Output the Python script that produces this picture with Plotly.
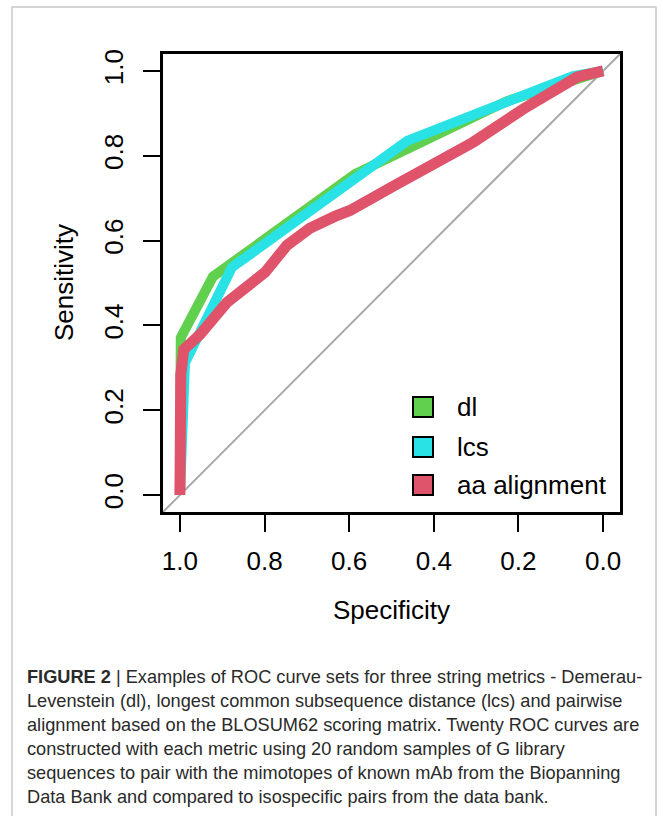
import plotly.graph_objects as go

# ---- data ----
dl_spec = [1.0, 1.0, 0.998, 0.922, 0.586, 0.227, 0.0]
dl_sens = [0.0, 0.30, 0.371, 0.515, 0.757, 0.929, 1.0]

lcs_spec = [1.0, 0.995, 0.988, 0.877, 0.586, 0.463, 0.071, 0.0]
lcs_sens = [0.0, 0.137, 0.312, 0.537, 0.745, 0.835, 0.988, 1.0]

aa_spec = [1.0, 0.998, 0.991, 0.953, 0.889, 0.842, 0.799, 0.747, 0.693, 0.634, 0.598, 0.496, 0.307, 0.189, 0.061, 0.0]
aa_sens = [0.0, 0.284, 0.343, 0.378, 0.454, 0.487, 0.525, 0.589, 0.629, 0.657, 0.671, 0.728, 0.832, 0.910, 0.986, 1.0]

series_names = ["dl", "lcs", "aa alignment"]
series_colors = ["#61D04F", "#28E2E5", "#DF536B"]

tick_vals = [1.0, 0.8, 0.6, 0.4, 0.2, 0.0]
tick_text = ["1.0", "0.8", "0.6", "0.4", "0.2", "0.0"]

x_range = [1.04, -0.04]
y_range = [-0.04, 1.04]

caption_lines = [
    "<b>FIGURE 2</b> | Examples of ROC curve sets for three string metrics - Demerau-",
    "Levenstein (dl), longest common subsequence distance (lcs) and pairwise",
    "alignment based on the BLOSUM62 scoring matrix. Twenty ROC curves are",
    "constructed with each metric using 20 random samples of G library",
    "sequences to pair with the mimotopes of known mAb from the Biopanning",
    "Data Bank and compared to isospecific pairs from the data bank.",
]

# ---- figure ----
W, H = 663, 816
L, R, T, B = 163, 43, 54, 304
pw, ph = W - L - R, H - T - B

def px(xp):
    return (xp - L) / pw

def py(yp):
    return (H - B - yp) / ph

fig = go.Figure()

# identity line
fig.add_trace(go.Scatter(x=x_range, y=[1 - v for v in x_range], mode="lines",
                         line=dict(color="#A9A9A9", width=2), showlegend=False, hoverinfo="skip"))

for xs, ys, name, col, w in [(dl_spec, dl_sens, series_names[0], series_colors[0], 10),
                             (lcs_spec, lcs_sens, series_names[1], series_colors[1], 10),
                             (aa_spec, aa_sens, series_names[2], series_colors[2], 11)]:
    fig.add_trace(go.Scatter(x=xs, y=ys, mode="lines", name=name,
                             line=dict(color=col, width=w), showlegend=False))

font_main = "Liberation Sans, Arial, sans-serif"

axis_common = dict(showgrid=False, zeroline=False, showline=True, linecolor="black",
                   linewidth=3, mirror=True, ticks="outside", ticklen=17, tickwidth=2,
                   tickcolor="black", tickvals=tick_vals, ticktext=tick_text,
                   tickfont=dict(family=font_main, size=26, color="black"))

fig.update_xaxes(range=x_range, ticklabelstandoff=7, **axis_common)
fig.update_yaxes(range=y_range, tickangle=-90, ticklabelstandoff=10, **axis_common)

annotations = []
shapes = []

# axis titles
annotations.append(dict(text="Specificity", x=0.5, y=py(610), xref="paper", yref="paper",
                        showarrow=False, font=dict(family=font_main, size=26, color="black"),
                        xanchor="center", yanchor="middle"))
annotations.append(dict(text="Sensitivity", x=px(64), y=0.5, xref="paper", yref="paper",
                        showarrow=False, textangle=-90,
                        font=dict(family=font_main, size=26, color="black"),
                        xanchor="center", yanchor="middle"))

# legend
leg_y = [407, 447, 485]
for name, col, yc in zip(series_names, series_colors, leg_y):
    shapes.append(dict(type="rect", xref="paper", yref="paper",
                       x0=px(413), x1=px(433), y0=py(yc + 10), y1=py(yc - 10),
                       fillcolor=col, line=dict(color="black", width=2)))
    annotations.append(dict(text=name, x=px(455), y=py(yc), xref="paper", yref="paper",
                            showarrow=False, xanchor="left", yanchor="middle",
                            font=dict(family=font_main, size=26, color="black")))

# outer frame
shapes.append(dict(type="rect", xref="paper", yref="paper",
                   x0=px(12), x1=px(656), y0=py(830), y1=py(7),
                   line=dict(color="#C8C8C8", width=1.5), fillcolor="rgba(0,0,0,0)"))

# caption
cap_y0, cap_dy = 677, 24
for i, line in enumerate(caption_lines):
    annotations.append(dict(text=line, x=px(25), y=py(cap_y0 + i * cap_dy), xref="paper", yref="paper",
                            showarrow=False, xanchor="left", yanchor="middle",
                            font=dict(family="Liberation Sans Narrow, Arial Narrow, sans-serif",
                                      size=18.2, color="#2a2a2a")))

fig.update_layout(width=W, height=H, margin=dict(l=L, r=R, t=T, b=B, autoexpand=False),
                  paper_bgcolor="white", plot_bgcolor="white",
                  annotations=annotations, shapes=shapes, showlegend=False)

fig.write_html("out.html")
